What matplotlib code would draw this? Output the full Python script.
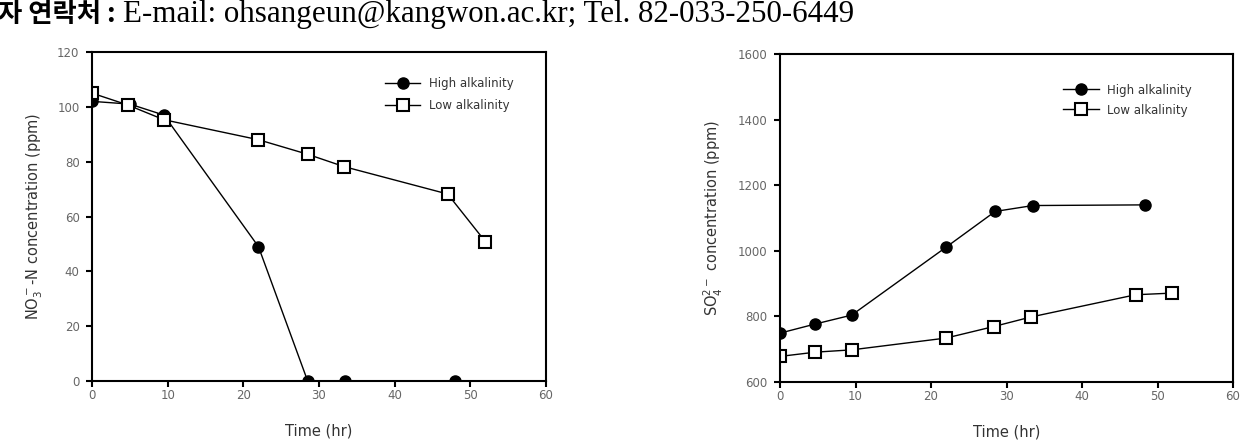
import numpy as np
import matplotlib
matplotlib.use("Agg")
import matplotlib.pyplot as plt

# NO3-N data (left panel)
t_high_no3 = [0, 5, 9.5, 22, 28.5, 33.5, 48]
no3_high = [102, 101, 97, 49, 0, 0, 0]
t_low_no3 = [0, 4.7, 9.5, 22, 28.5, 33.3, 47, 52]
no3_low = [105, 100.7, 95.3, 88, 82.7, 78.2, 68.2, 50.8]

# SO4 data (right panel)
t_high_so4 = [0, 4.7, 9.5, 22, 28.5, 33.5, 48.3]
so4_high = [749, 777, 804, 1011, 1120, 1138, 1140]
t_low_so4 = [0, 4.7, 9.5, 22, 28.3, 33.2, 47.1, 51.9]
so4_low = [678, 691, 698, 734, 769, 798, 866, 871]

legend_labels = ["High alkalinity", "Low alkalinity"]
xticks = [0, 10, 20, 30, 40, 50, 60]

W, H = 1252, 447
fig = plt.figure(figsize=(W / 100, H / 100), dpi=100)

# header line
fig.text(116 / W, 1 - 22 / H, "자 연락처 :", ha="right", va="baseline",
         fontsize=19, fontweight="bold", family=["Noto Sans CJK KR", "DejaVu Sans"])
fig.text(123 / W, 1 - 22 / H, "E-mail: ohsangeun@kangwon.ac.kr; Tel. 82-033-250-6449",
         ha="left", va="baseline", fontsize=22.3, family=["Liberation Serif", "DejaVu Serif"])

tick_col = "#666666"
lab_col = "#333333"


def style(ax, ylim, yticks, ylabel):
    ax.set_xlim(0, 60)
    ax.set_ylim(*ylim)
    ax.set_xticks(xticks)
    ax.set_yticks(yticks)
    for s in ax.spines.values():
        s.set_linewidth(1.5)
    ax.tick_params(direction="out", length=4, width=1.5, labelsize=8.5,
                   labelcolor=tick_col)
    ax.tick_params(axis="x", pad=2)
    ax.tick_params(axis="y", pad=5)
    ax.set_xlabel("Time (hr)", fontsize=10.5, color=lab_col, labelpad=15)
    ax.set_ylabel(ylabel, fontsize=10.5, color=lab_col, labelpad=9)


def add_legend(ax, x, y, spacing):
    leg = ax.legend(loc="upper left", bbox_to_anchor=(x, y), frameon=False,
                    fontsize=8.5, handlelength=3, handletextpad=0.7,
                    borderpad=0, borderaxespad=0, labelspacing=spacing)
    for t in leg.get_texts():
        t.set_color(lab_col)


ax1 = fig.add_axes([92 / W, 1 - 381 / H, 454 / W, 329 / H])
ax1.plot(t_high_no3, no3_high, "-o", color="black", lw=1, ms=8,
         mfc="black", label=legend_labels[0])
ax1.plot(t_low_no3, no3_low, "-s", color="black", lw=1, ms=8,
         mfc="white", mew=1.5, label=legend_labels[1])
style(ax1, (0, 120), np.arange(0, 121, 20), r"NO$_3^-$-N concentration (ppm)")
add_legend(ax1, 0.645, 0.925, 0.78)

ax2 = fig.add_axes([780 / W, 1 - 382 / H, 453 / W, 328 / H])
ax2.plot(t_high_so4, so4_high, "-o", color="black", lw=1, ms=8,
         mfc="black", label=legend_labels[0])
ax2.plot(t_low_so4, so4_low, "-s", color="black", lw=1, ms=8,
         mfc="white", mew=1.5, label=legend_labels[1])
style(ax2, (600, 1600), np.arange(600, 1601, 200), r"SO$_4^{2-}$ concentration (ppm)")
add_legend(ax2, 0.625, 0.91, 0.6)

fig.savefig("out.png", dpi=100)
